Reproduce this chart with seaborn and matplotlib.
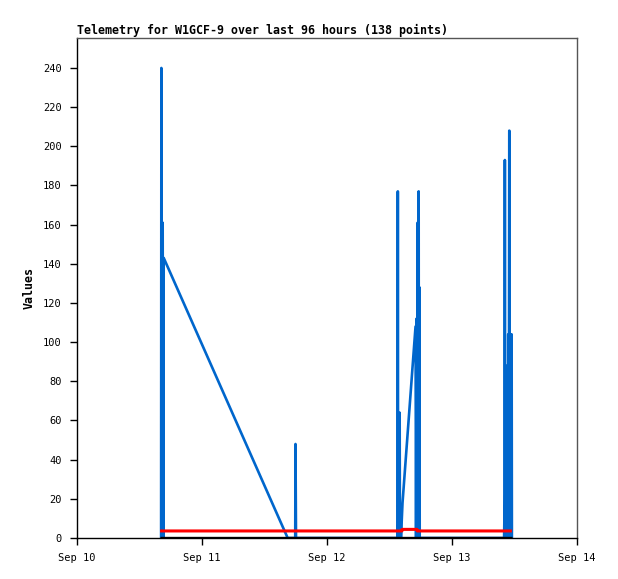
import matplotlib
matplotlib.use("Agg")
import matplotlib.pyplot as plt
import matplotlib.dates as mdates
import seaborn as sns
import pandas as pd

# hours since Sep 10 00:00 and telemetry values
blue_hours = [16.15, 16.2, 16.3, 16.35, 16.45, 16.55, 16.65, 40.45, 41.9, 41.95, 42.05,
              61.55, 61.6, 61.65, 61.75, 61.85, 61.95, 62.0, 62.1, 62.2, 62.5,
              63.0, 63.5, 64.0, 64.5, 65.0, 65.1, 65.2, 65.3, 65.4, 65.5, 65.6, 65.65,
              65.75, 65.8, 82.0, 82.1, 82.15, 82.2, 82.35, 82.4, 82.5, 82.7, 82.8,
              82.9, 83.0, 83.05, 83.2, 83.3, 83.45, 83.5]
blue_values = [0, 240, 97, 0, 161, 0, 143, 0, 0, 48, 0,
               0, 177, 0, 16, 0, 64, 0, 16, 0, 18,
               36, 54, 72, 90, 108, 0, 112, 0, 161, 0, 177, 0,
               128, 0, 0, 17, 193, 0, 88, 0, 17, 0, 104,
               0, 208, 0, 104, 17, 104, 0]

red_hours = [15.95, 62.4, 62.41, 65.3, 65.31, 83.5]
red_values = [3.6, 3.6, 4.4, 4.4, 3.6, 3.6]

black_hours = [15.95, 83.5]
black_values = [0, 0]

start = pd.Timestamp("2025-09-10")
def frame(hours, values):
    return pd.DataFrame({"time": start + pd.to_timedelta(hours, unit="h"), "value": values})

blue = frame(blue_hours, blue_values)
red = frame(red_hours, red_values)
black = frame(black_hours, black_values)

sns.set_style("white")
plt.rcParams["font.family"] = ["DejaVu Sans Mono"]
plt.rcParams["text.color"] = "black"
plt.rcParams["axes.labelcolor"] = "black"
plt.rcParams["xtick.color"] = "black"
plt.rcParams["ytick.color"] = "black"

fig = plt.figure(figsize=(6.18, 5.79), dpi=100)
ax = fig.add_axes([77 / 618, 1 - 538 / 579, 500 / 618, 500 / 579])

sns.lineplot(data=blue, x="time", y="value", color="#0066CC", linewidth=1.9,
             estimator=None, sort=False, ax=ax)
sns.lineplot(data=red, x="time", y="value", color="#FF0000", linewidth=2.2,
             estimator=None, sort=False, ax=ax, solid_capstyle="butt")
sns.lineplot(data=black, x="time", y="value", color="#000000", linewidth=2.4,
             estimator=None, sort=False, ax=ax, solid_capstyle="butt")

ax.set_xlim(start, start + pd.Timedelta(days=4))
ax.set_ylim(0, 255.3)
ax.set_yticks(range(0, 241, 20))
ax.xaxis.set_major_locator(mdates.DayLocator())
ax.xaxis.set_major_formatter(mdates.DateFormatter("%b %d"))

ax.set_title("Telemetry for W1GCF-9 over last 96 hours (138 points)",
             loc="left", fontsize=8.4, fontweight="bold", pad=3, color="black")
ax.set_xlabel("")
ax.set_ylabel("Values", fontsize=8.4, fontweight="bold", labelpad=5)
ax.tick_params(axis="both", which="major", labelsize=7.5, length=5, width=1,
               direction="out", color="black", labelcolor="black",
               bottom=True, left=True, pad=6)

for side in ["top", "right"]:
    ax.spines[side].set_color("#555555")
for side in ["left", "bottom"]:
    ax.spines[side].set_color("black")
for s in ax.spines.values():
    s.set_linewidth(1)

fig.savefig("out.png", dpi=100)
